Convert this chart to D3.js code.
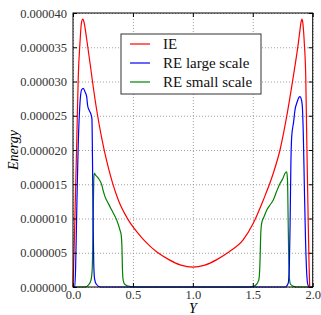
<!DOCTYPE html>
<html>
<head>
<meta charset="utf-8">
<script src="https://cdn.jsdelivr.net/npm/d3@7"></script>
<style>
  body { margin: 0; background: #fff; }
  svg { display: block; }
  .tick text { font-family: "Liberation Serif", serif; font-size: 12.5px; fill: #333; }
  .grid line { stroke: #888; stroke-dasharray: 1,2; stroke-width: 0.8; }
  .grid path { stroke: none; }
</style>
</head>
<body>
<div id="graph"></div>
<script>
// values, energies in units of 1e-5
var ieX = [0.0,0.01,0.02,0.031,0.044,0.058,0.07,0.081,0.09,0.1,0.114,0.142,0.169,0.198,0.24,0.281,0.323,0.378,0.461,0.545,0.6,0.7,0.8,0.9,1.0,
           1.1,1.2,1.3,1.421,1.504,1.588,1.671,1.727,1.783,1.838,1.88,1.893,1.903,1.91,1.918,1.93,1.942,1.95,1.96,1.97,1.975]
var ieE = [0,0.6,1.3,2.1,3.07,3.56,3.85,3.91,3.88,3.79,3.62,3.27,2.92,2.58,2.17,1.84,1.56,1.27,0.98,0.78,0.67,0.51,0.4,0.32,0.29,
           0.32,0.4,0.51,0.69,0.93,1.27,1.66,2.0,2.49,3.07,3.56,3.74,3.87,3.91,3.85,3.56,3.07,2.2,1.2,0.3,0]

var rlX = [0.0,0.015,0.022,0.03,0.037,0.044,0.058,0.072,0.086,0.1,0.114,0.122,0.135,0.15,0.158,0.163,0.168,0.173,0.18,0.195,0.23,
           1.77,1.795,1.805,1.812,1.818,1.825,1.84,1.852,1.87,1.885,1.894,1.905,1.913,1.922,1.93,1.94,1.95,1.96,1.97,2.0]
var rlE = [0,0,0.3,1.0,1.6,2.1,2.68,2.88,2.9,2.85,2.78,2.65,2.58,2.52,2.45,1.8,0.9,0.35,0.12,0.04,0,
           0,0.05,0.3,1.0,1.8,2.2,2.4,2.58,2.7,2.77,2.78,2.74,2.65,2.2,1.5,0.7,0.2,0.03,0,0]

var rsX = [0.0,0.1,0.13,0.15,0.16,0.165,0.17,0.174,0.178,0.19,0.211,0.24,0.253,0.267,0.295,0.315,0.336,0.364,0.392,0.402,0.408,0.412,0.417,0.425,0.44,0.47,0.52,
           1.48,1.52,1.55,1.56,1.566,1.574,1.595,1.616,1.645,1.671,1.7,1.727,1.75,1.769,1.783,1.79,1.795,1.8,1.806,1.815,1.84,1.87,2.0]
var rsE = [0,0,0.03,0.1,0.25,0.6,1.2,1.6,1.66,1.63,1.59,1.49,1.4,1.32,1.22,1.15,1.08,0.98,0.83,0.76,0.6,0.3,0.12,0.06,0.03,0.01,0,
           0,0.02,0.1,0.35,0.75,0.93,1.03,1.12,1.2,1.27,1.4,1.51,1.58,1.66,1.68,1.55,1.0,0.45,0.12,0.04,0.01,0,0]

var seriesNames = ["IE", "RE large scale", "RE small scale"]
var seriesColors = ["#ff0000", "#0000ff", "#008000"]
var xTicks = [0.0, 0.5, 1.0, 1.5, 2.0]
var yTicks = [0, 5e-6, 1e-5, 1.5e-5, 2e-5, 2.5e-5, 3e-5, 3.5e-5, 4e-5]

var margin = {top: 13, right: 8.3, bottom: 28, left: 73},
    W = 321, H = 315,
    width = W - margin.left - margin.right,
    height = H - margin.top - margin.bottom;

function toPoints(xs, es){
    return xs.map(function(x, i){ return {x: x, e: es[i] * 1e-5} })
}
var series = [toPoints(ieX, ieE), toPoints(rlX, rlE), toPoints(rsX, rsE)]

var svg = d3.select("#graph").append("svg")
    .attr("width", W)
    .attr("height", H)

var g = svg.append("g")
    .attr("transform", "translate(" + margin.left + "," + margin.top + ")")

var x = d3.scaleLinear().domain([0, 2]).range([0, width])
var y = d3.scaleLinear().domain([0, 4e-5]).range([height, 0])

// dotted grid
g.append("g")
    .attr("class", "grid")
    .attr("transform", "translate(0," + height + ")")
    .call(d3.axisBottom(x).tickValues(xTicks).tickSize(-height).tickFormat(""))
g.append("g")
    .attr("class", "grid")
    .call(d3.axisLeft(y).tickValues(yTicks).tickSize(-width).tickFormat(""))

var line = d3.line()
    .curve(d3.curveMonotoneX)
    .x(function(d) { return x(d.x) })
    .y(function(d) { return y(d.e) })

// draw green, blue, red so red sits on top
for (var i = series.length - 1; i >= 0; i--){
    g.append("path")
        .datum(series[i])
        .attr("fill", "none")
        .attr("stroke", seriesColors[i])
        .attr("stroke-width", 1.2)
        .attr("d", line)
}

// axes with inward ticks
g.append("g")
    .attr("transform", "translate(0," + height + ")")
    .call(d3.axisBottom(x).tickValues(xTicks).tickSizeInner(-4).tickSizeOuter(0).tickPadding(3).tickFormat(d3.format(".1f")))
    .call(function(s){ s.select(".domain").remove() })
g.append("g")
    .call(d3.axisLeft(y).tickValues(yTicks).tickSizeInner(-4).tickSizeOuter(0).tickPadding(6).tickFormat(d3.format(".6f")))
    .call(function(s){ s.select(".domain").remove() })
g.append("g")
    .call(d3.axisTop(x).tickValues(xTicks).tickSizeInner(-4).tickSizeOuter(0).tickFormat(""))
    .call(function(s){ s.select(".domain").remove() })
g.append("g")
    .attr("transform", "translate(" + width + ",0)")
    .call(d3.axisRight(y).tickValues(yTicks).tickSizeInner(-4).tickSizeOuter(0).tickFormat(""))
    .call(function(s){ s.select(".domain").remove() })

g.append("rect")
    .attr("width", width)
    .attr("height", height)
    .attr("fill", "none")
    .attr("stroke", "#000")
    .attr("stroke-width", 1)

// axis titles
svg.append("text")
    .attr("x", margin.left + width / 2)
    .attr("y", 313)
    .attr("text-anchor", "middle")
    .style("font-family", "'Liberation Serif', serif")
    .style("font-style", "italic")
    .style("font-size", "14px")
    .text("Y")
svg.append("text")
    .attr("transform", "translate(18," + (margin.top + height / 2) + ") rotate(-90)")
    .attr("text-anchor", "middle")
    .style("font-family", "'Liberation Serif', serif")
    .style("font-style", "italic")
    .style("font-size", "14px")
    .text("Energy")

// legend
var legend = svg.append("g").attr("transform", "translate(121,34)")
legend.append("rect")
    .attr("width", 140)
    .attr("height", 60)
    .attr("fill", "#fff")
    .attr("stroke", "#333")
    .attr("stroke-width", 1)
seriesNames.forEach(function(name, i){
    var yy = 10 + i * 19
    legend.append("line")
        .attr("x1", 9).attr("x2", 29)
        .attr("y1", yy).attr("y2", yy)
        .attr("stroke", seriesColors[i])
        .attr("stroke-width", 1.2)
    legend.append("text")
        .attr("x", 42)
        .attr("y", yy + 5)
        .style("font-family", "'Liberation Serif', serif")
        .style("font-size", "15px")
        .attr("fill", "#111")
        .text(name)
})
</script>
</body>
</html>
